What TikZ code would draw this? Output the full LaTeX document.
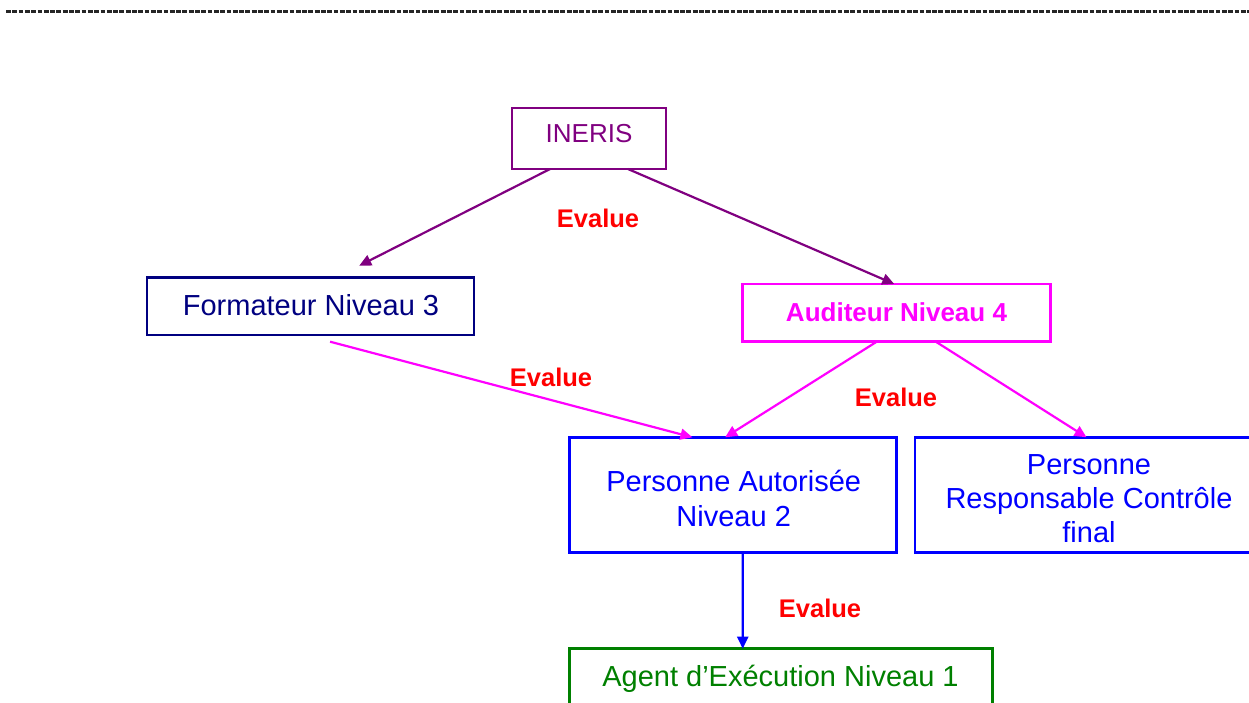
\documentclass[tikz,border=0pt]{standalone}
\usepackage{fontspec}
\setmainfont{Liberation Sans}
\usetikzlibrary{arrows.meta,calc}
\definecolor{cnavy}{RGB}{0,0,128}
\definecolor{cpurple}{RGB}{128,0,128}
\definecolor{cmagenta}{RGB}{255,0,255}
\definecolor{cblue}{RGB}{0,0,255}
\definecolor{cgreen}{RGB}{0,128,0}
\definecolor{cred}{RGB}{255,0,0}
\begin{document}
\begin{tikzpicture}[x=1pt,y=-1pt,
  box/.style={draw, rectangle, inner sep=0pt, outer sep=0pt, line width=2.5pt, anchor=north west},
  conn/.style={line width=2.2pt, -{Triangle[length=12pt,width=11pt]}},
  lbl/.style={anchor=base, inner sep=0pt, align=center, font=\fontsize{29}{34.2}\selectfont},
  evl/.style={anchor=base, inner sep=0pt, text=cred, font=\fontsize{25.5}{30}\selectfont\bfseries}]
\useasboundingbox (0,0) rectangle (1249,702);
\fill[white] (0,0) rectangle (1249,702);

% top dashed rule
\coordinate (dl) at (6,11);
\coordinate (dr) at (1249,11);
\draw[black!85, line width=3pt, dash pattern=on 4.8pt off 1.5pt] (dl) -- (dr);

% boxes
\node[box, draw=cpurple, minimum width=154pt, minimum height=61pt] (ineris) at (512,108) {};
\node[box, draw=cnavy, minimum width=327pt, minimum height=57.3pt] (form) at (147,277.7) {};
\node[box, draw=cmagenta, minimum width=308pt, minimum height=57.7pt] (aud) at (742.7,284) {};
\node[box, draw=cblue, minimum width=327.4pt, minimum height=115.4pt] (pa) at (569.3,437.3) {};
\node[box, draw=cblue, minimum width=348pt, minimum height=115.4pt] (prc) at (915,437.3) {};
\node[box, draw=cgreen, minimum width=423.4pt, minimum height=58pt] (agent) at (569.3,648.7) {};

% texts (base anchor = baseline of the last line)
\node[lbl, text=cpurple, font=\fontsize{26}{30}\selectfont] (ineris-t) at (589,142.7) {INERIS};
\node[lbl, text=cnavy] (form-t) at (311,315.7) {Formateur Niveau 3};
\node[lbl, text=cmagenta, font=\fontsize{26}{30}\selectfont\bfseries] (aud-t) at (896.5,321) {Auditeur Niveau 4};
\node[lbl, text=cblue] (pa-t) at (733.7,526) {Personne Autorisée\\Niveau 2};
\node[lbl, text=cblue] (prc-t) at (1089,542.5) {Personne\\Responsable Contrôle\\final};
\node[lbl, text=cgreen] (agent-t) at (780.5,686.7) {Agent d’Exécution Niveau 1};

% connectors
\draw[conn, cpurple] ($(ineris.south west)!0.247!(ineris.south east)$) -- ($(form.north west)!0.649!(form.north east)+(0pt,12pt)$);
\draw[conn, cpurple] ($(ineris.south west)!0.753!(ineris.south east)$) -- ($(aud.north west)!0.492!(aud.north east)$);
\draw[conn, cmagenta] ($(form.south west)!0.56!(form.south east)+(0pt,-6.7pt)$) -- ($(pa.north west)!0.376!(pa.north east)$);
\draw[conn, cmagenta] ($(aud.south west)!0.435!(aud.south east)$) -- ($(pa.north west)!0.476!(pa.north east)$);
\draw[conn, cmagenta] ($(aud.south west)!0.627!(aud.south east)$) -- ($(prc.north west)!0.493!(prc.north east)$);
\draw[conn, cblue] ($(pa.south west)!0.53!(pa.south east)$) -- ($(agent.north west)!0.4096!(agent.north east)$);

% labels
\node[evl] (ev1) at (598,227.7) {Evalue};
\node[evl] (ev2) at (551,386) {Evalue};
\node[evl] (ev3) at (896,406) {Evalue};
\node[evl] (ev4) at (820,617.3) {Evalue};
\end{tikzpicture}
\end{document}
